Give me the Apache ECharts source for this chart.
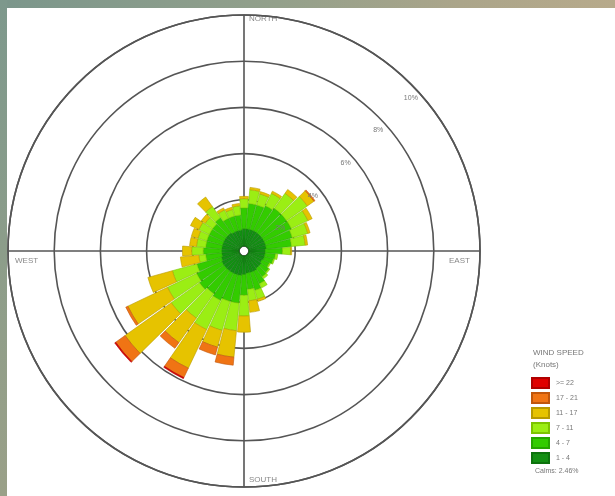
<!DOCTYPE html>
<html>
<head>
<meta charset="utf-8">
<script src="https://cdn.jsdelivr.net/npm/echarts@6/dist/echarts.min.js"></script>
<style>
  html, body { margin: 0; padding: 0; background: #ffffff; }
  #chart { width: 615px; height: 496px; }
</style>
</head>
<body>
<div id="chart"></div>
<script>
// Wind direction sectors (degrees from north, clockwise), 10-degree bins
const directions = ['0','10','20','30','40','50','60','70','80','90','100','110','120','130','140','150','160','170',
                    '180','190','200','210','220','230','240','250','260','270','280','290','300','310','320','330','340','350'];

// Frequency (%) of each wind speed class per direction
const speed1to4   = [0.75,0.75,0.75,0.75,0.75,0.75,0.75,0.75,0.75,0.7,0.7,0.7,0.65,0.7,0.7,0.75,0.75,0.75,0.8,0.85,0.85,0.85,0.85,0.85,0.85,0.8,0.75,0.75,0.75,0.75,0.75,0.75,0.75,0.7,0.7,0.7];
const speed4to7   = [0.9,1.1,1.1,1.2,1.3,1.3,1.3,1.2,1.1,0.75,0.45,0.4,0.35,0.4,0.45,0.6,0.8,0.7,0.9,1.2,1.2,1.3,1.2,1.3,1.2,1.1,0.7,0.8,0.7,0.7,0.7,0.7,0.8,0.65,0.65,0.65];
const speed7to11  = [0.4,0.6,0.5,0.6,0.8,1.1,0.8,0.7,0.6,0.35,0.1,0.05,0.05,0.05,0.1,0.2,0.4,0.5,0.9,1.2,1.3,1.4,1.3,1.5,1.4,1.1,0.3,0.5,0.4,0.4,0.5,0.4,0.6,0.4,0.3,0.4];
const speed11to17 = [0.1,0.1,0.1,0.1,0.2,0.35,0.2,0.1,0.1,0.05,0,0,0,0,0,0,0.1,0.5,0.7,1.15,0.75,1.85,1.3,2.45,1.9,1.1,0.8,0.4,0.3,0.3,0.4,0.2,0.5,0.1,0.1,0.1];
const speed17to21 = [0,0,0,0,0,0.05,0,0,0,0,0,0,0,0,0,0,0,0,0,0.35,0.35,0.45,0.3,0.5,0.1,0,0,0,0,0,0,0,0,0,0,0];
const speed22up   = [0,0,0,0,0,0,0,0,0,0,0,0,0,0,0,0,0,0,0,0,0,0.05,0,0.05,0,0,0,0,0,0,0,0,0,0,0,0];

// Speed class names (knots), innermost first
const speedClasses = ['1 - 4', '4 - 7', '7 - 11', '11 - 17', '17 - 21', '>= 22'];
const classColors  = ['#138f13', '#33cc00', '#9bee14', '#e6c300', '#f07414', '#e00000'];
const classEdges   = ['#0d720d', '#26a600', '#7cc400', '#b89a00', '#c0560c', '#b00000'];

// Radius scale (%)
const radiusMax = 10;
const radiusStep = 2;
const calms = '2.46%';

const chart = echarts.init(document.getElementById('chart'), null, { renderer: 'canvas' });

const classValues = [speed1to4, speed4to7, speed7to11, speed11to17, speed17to21, speed22up];
const center = [244, 251];
const radius = [5, 236];
const gridColor = '#555555';

// Empty classes are left out so they draw no outline
const series = speedClasses.map((name, i) => ({
  name: name,
  type: 'bar',
  coordinateSystem: 'polar',
  polarIndex: 0,
  stack: 'speed',
  barCategoryGap: '8%',
  data: classValues[i].map(v => (v > 0 ? v : '-')),
  itemStyle: { color: classColors[i], borderColor: classEdges[i], borderWidth: 0.6 },
  emphasis: { disabled: true },
  z: 3
}));

chart.setOption({
  animation: false,
  backgroundColor: '#ffffff',
  textStyle: { fontFamily: 'Liberation Sans, Arial, sans-serif' },
  polar: [
    { center: center, radius: radius },
    { center: center, radius: radius },
    { center: center, radius: radius }
  ],
  angleAxis: [
    { polarIndex: 0, type: 'category', data: directions, startAngle: 95, clockwise: true,
      axisLine: { show: false }, axisTick: { show: false }, axisLabel: { show: false }, splitLine: { show: false } },
    { polarIndex: 1, type: 'value', min: 0, max: 360, interval: 90, startAngle: 90, clockwise: true,
      axisLine: { show: true, lineStyle: { color: gridColor, width: 1.6 } },
      axisTick: { show: false }, axisLabel: { show: false },
      splitLine: { show: true, lineStyle: { color: gridColor, width: 1.6 } } },
    { polarIndex: 2, type: 'value', min: 0, max: 360, startAngle: 45, clockwise: true,
      axisLine: { show: false }, axisTick: { show: false }, axisLabel: { show: false }, splitLine: { show: false } }
  ],
  radiusAxis: [
    { polarIndex: 0, type: 'value', min: 0, max: radiusMax, interval: radiusStep,
      axisLine: { show: false }, axisTick: { show: false }, axisLabel: { show: false },
      splitLine: { show: true, lineStyle: { color: gridColor, width: 1.6 } } },
    { polarIndex: 1, type: 'value', min: 0, max: radiusMax, interval: radiusStep,
      axisLine: { show: false }, axisTick: { show: false }, axisLabel: { show: false }, splitLine: { show: false } },
    { polarIndex: 2, type: 'value', min: 0, max: radiusMax, interval: radiusStep, z: 10,
      axisLine: { show: false }, axisTick: { show: false }, splitLine: { show: false },
      axisLabel: {
        show: true, margin: 0, align: 'center', verticalAlign: 'top',
        padding: [10, 0, 0, 0], fontSize: 7, color: '#777777',
        formatter: v => (v === 0 ? '' : v + '%')
      } }
  ],
  legend: {
    orient: 'vertical',
    left: 531,
    top: 377,
    padding: 0,
    itemWidth: 17,
    itemHeight: 10,
    itemGap: 3,
    icon: 'rect',
    selectedMode: false,
    data: speedClasses.slice().reverse(),
    textStyle: { fontSize: 7, lineHeight: 10, color: '#777777', padding: [0, 0, 0, 2] }
  },
  graphic: [
    { type: 'rect', shape: { x: 0, y: 0, width: 615, height: 8 }, silent: true,
      style: { fill: new echarts.graphic.LinearGradient(0, 0, 1, 0, [
        { offset: 0, color: '#7b968b' }, { offset: 0.45, color: '#93a08b' },
        { offset: 0.75, color: '#aba58a' }, { offset: 1, color: '#b7aa8b' }]) } },
    { type: 'rect', shape: { x: 0, y: 0, width: 7, height: 496 }, silent: true,
      style: { fill: new echarts.graphic.LinearGradient(0, 0, 0, 1, [
        { offset: 0, color: '#7d988c' }, { offset: 0.5, color: '#8c9d8a' },
        { offset: 1, color: '#9aa088' }]) } },
    { type: 'text', left: 249, top: 15, silent: true,
      style: { text: 'NORTH', fontSize: 8, fill: '#888888', fontFamily: 'Liberation Sans' } },
    { type: 'text', left: 15, top: 257, silent: true,
      style: { text: 'WEST', fontSize: 8, fill: '#888888', fontFamily: 'Liberation Sans' } },
    { type: 'text', left: 449, top: 257, silent: true,
      style: { text: 'EAST', fontSize: 8, fill: '#888888', fontFamily: 'Liberation Sans' } },
    { type: 'text', left: 249, top: 476, silent: true,
      style: { text: 'SOUTH', fontSize: 8, fill: '#888888', fontFamily: 'Liberation Sans' } },
    { type: 'text', left: 533, top: 347, silent: true,
      style: { text: 'WIND SPEED\n(Knots)', fontSize: 8, lineHeight: 12, fill: '#777777', fontFamily: 'Liberation Sans' } },
    { type: 'text', left: 535, top: 468, silent: true,
      style: { text: 'Calms: ' + calms, fontSize: 7, fill: '#777777', fontFamily: 'Liberation Sans' } }
  ],
  series: series
});
</script>
</body>
</html>
